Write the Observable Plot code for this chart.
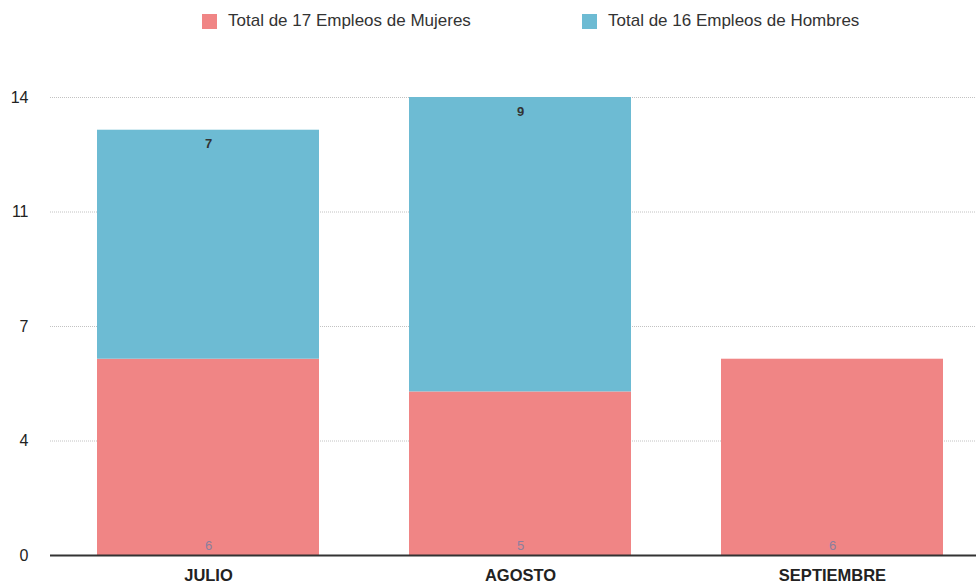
<!DOCTYPE html>
<html>
<head>
<meta charset="utf-8">
<script src="https://cdn.jsdelivr.net/npm/d3@7"></script>
<script src="https://cdn.jsdelivr.net/npm/@observablehq/plot@0.6"></script>
<style>
  body { margin: 0; background: #fff; font-family: "Liberation Sans", Arial, sans-serif; }
  #legend { height: 45px; position: relative; }
  .item { position: absolute; top: 11px; display: flex; align-items: center; font-size: 17px; color: #333; }
  .sw { width: 15px; height: 15px; margin-right: 11px; }
</style>
</head>
<body>
<div id="legend"></div>
<div id="chart"></div>
<script>
const meses = ["JULIO", "AGOSTO", "SEPTIEMBRE"];
const mujeres = [6, 5, 6];
const hombres = [7, 9, 0];
const series = ["Total de 17 Empleos de Mujeres", "Total de 16 Empleos de Hombres"];
const colores = ["#F08585", "#6DBBD3"];
const yTicks = [0, 3.5, 7, 10.5, 14];

const rows = [];
meses.forEach((m, i) => {
  rows.push({mes: m, serie: series[0], valor: mujeres[i]});
  rows.push({mes: m, serie: series[1], valor: hombres[i]});
});
const labelsH = meses.map((m, i) => ({mes: m, v: hombres[i], top: mujeres[i] + hombres[i]})).filter(d => d.v > 0);
const labelsM = meses.map((m, i) => ({mes: m, v: mujeres[i]}));

const legend = document.getElementById("legend");
[202, 582].forEach((x, i) => {
  const it = document.createElement("div");
  it.className = "item";
  it.style.left = x + "px";
  it.innerHTML = `<span class="sw" style="background:${colores[i]}"></span><span>${series[i]}</span>`;
  legend.appendChild(it);
});

const chart = Plot.plot({
  width: 976,
  height: 538,
  marginLeft: 50,
  marginRight: 0,
  marginTop: 52,
  marginBottom: 28,
  style: {fontFamily: "Liberation Sans, Arial, sans-serif", background: "#fff"},
  x: {domain: meses, paddingInner: 0.2875, paddingOuter: 0.123, align: 0.584, label: null},
  y: {domain: [0, 14], label: null},
  color: {domain: series, range: colores},
  marks: [
    Plot.gridY(yTicks.filter(t => t > 0), {stroke: "#999", strokeOpacity: 0.6, strokeDasharray: "1,1"}),
    Plot.axisY(yTicks, {tickSize: 0, tickPadding: 22, tickFormat: d => Math.round(d), fontSize: 16, fill: "#222", label: null}),
    Plot.barY(rows, {x: "mes", y: "valor", fill: "serie", order: series}),
    Plot.ruleY([0], {stroke: "#333", strokeWidth: 2}),
    Plot.axisX({tickSize: 0, tickPadding: 14, fontSize: 16.5, fontWeight: "bold", fill: "#222", label: null}),
    Plot.text(labelsH, {x: "mes", y: "top", text: "v", dy: 14, fontSize: 13, fontWeight: "bold", fill: "#333"}),
    Plot.text(labelsM, {x: "mes", y: 0, text: "v", dy: -10, fontSize: 13, fill: "#8a7f9e"})
  ]
});
document.getElementById("chart").appendChild(chart);
</script>
</body>
</html>
